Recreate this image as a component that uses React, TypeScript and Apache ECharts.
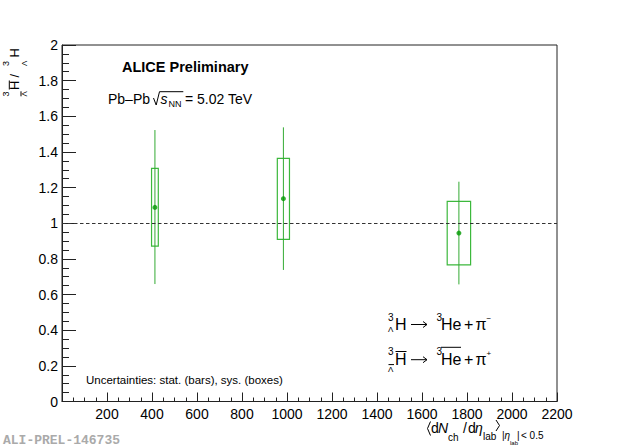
import React, { useEffect, useRef } from 'react';
import * as echarts from 'echarts';

// dN_ch/deta bins, ratio and its uncertainties
const multiplicity = [413, 984, 1764];
const multiplicityErr = [15, 27, 52];
const ratio = [1.089, 1.138, 0.945];
const statLow = [0.659, 0.738, 0.657];
const statHigh = [1.523, 1.538, 1.233];
const sysLow = [0.872, 0.91, 0.767];
const sysHigh = [1.308, 1.364, 1.123];
const refLevel = 1;

const FONT = "'Liberation Sans', Arial, Helvetica, sans-serif";

const txt = (text: string, x: number, y: number, size: number, extra: any = {}) => ({
  type: 'text',
  x,
  y,
  silent: true,
  style: {
    text,
    fontSize: size,
    fontFamily: FONT,
    fill: '#000',
    textAlign: 'left',
    verticalAlign: 'middle',
    ...extra,
  },
});

const rot = (el: any) => ({ ...el, rotation: Math.PI / 2 });

const seg = (x1: number, y1: number, x2: number, y2: number, w = 1) => ({
  type: 'line',
  silent: true,
  shape: { x1, y1, x2, y2 },
  style: { stroke: '#000', lineWidth: w },
});

const pline = (points: number[][], w = 1) => ({
  type: 'polyline',
  silent: true,
  shape: { points },
  style: { stroke: '#000', fill: 'none', lineWidth: w },
});

// thin right arrow like ROOT's #rightarrow
const arrow = (x: number, y: number) => [
  seg(x, y, x + 16, y, 1),
  pline([[x + 12, y - 3], [x + 16, y], [x + 12, y + 3]], 1),
];

const App: React.FC = () => {
  const chartRef = useRef<HTMLDivElement>(null);

  useEffect(() => {
    if (!chartRef.current) return;
    const chart = echarts.init(chartRef.current, undefined, { renderer: 'svg' });

    const statData = multiplicity.map((m, i) => [m, statLow[i], statHigh[i]]);
    const sysData = multiplicity.map((m, i) => [m, sysLow[i], sysHigh[i], multiplicityErr[i]]);
    const pointData = multiplicity.map((m, i) => [m, ratio[i]]);

    const option: any = {
      animation: false,
      backgroundColor: '#fff',
      grid: {
        left: 62,
        right: 63,
        top: 45,
        bottom: 45.5,
        show: true,
        borderColor: '#222',
        borderWidth: 1,
        backgroundColor: 'transparent',
        outerBoundsMode: 'none',
        containLabel: false,
      },
      xAxis: {
        type: 'value',
        min: 0,
        max: 2200,
        interval: 200,
        axisLine: { show: true, lineStyle: { color: '#222', width: 1 } },
        axisTick: { show: true, inside: true, length: 9, lineStyle: { color: '#222' } },
        minorTick: { show: true, splitNumber: 4, length: 4, lineStyle: { color: '#222' } },
        splitLine: { show: false },
        minorSplitLine: { show: false },
        axisLabel: {
          showMinLabel: false,
          margin: 5,
          color: '#000',
          fontSize: 14,
          fontFamily: FONT,
          formatter: (v: number) => String(v),
        },
      },
      yAxis: {
        type: 'value',
        min: 0,
        max: 2,
        interval: 0.2,
        axisLine: { show: true, lineStyle: { color: '#222', width: 1 } },
        axisTick: { show: true, inside: true, length: 14, lineStyle: { color: '#222' } },
        minorTick: { show: true, splitNumber: 4, length: 7, lineStyle: { color: '#222' } },
        splitLine: { show: false },
        minorSplitLine: { show: false },
        axisLabel: {
          margin: 4,
          color: '#000',
          fontSize: 14,
          fontFamily: FONT,
          formatter: (v: number) => String(Math.round(v * 10) / 10),
        },
      },
      series: [
        {
          type: 'custom',
          name: 'sys',
          data: sysData,
          encode: { x: 0, y: [1, 2] },
          renderItem: (params: any, api: any) => {
            const x = api.value(0);
            const lo = api.value(1);
            const hi = api.value(2);
            const dx = api.value(3);
            const p1 = api.coord([x - dx, hi]);
            const p2 = api.coord([x + dx, lo]);
            return {
              type: 'rect',
              shape: { x: p1[0], y: p1[1], width: p2[0] - p1[0], height: p2[1] - p1[1] },
              style: { fill: 'none', stroke: '#3cb83c', lineWidth: 1.2 },
            };
          },
          z: 3,
        },
        {
          type: 'custom',
          name: 'stat',
          data: statData,
          encode: { x: 0, y: [1, 2] },
          renderItem: (params: any, api: any) => {
            const x = api.value(0);
            const p1 = api.coord([x, api.value(1)]);
            const p2 = api.coord([x, api.value(2)]);
            return {
              type: 'line',
              shape: { x1: p1[0], y1: p1[1], x2: p2[0], y2: p2[1] },
              style: { stroke: '#33aa33', lineWidth: 1 },
            };
          },
          z: 3,
        },
        {
          type: 'scatter',
          name: 'ratio',
          data: pointData,
          symbol: 'circle',
          symbolSize: 5,
          itemStyle: { color: '#009900' },
          z: 4,
          markLine: {
            silent: true,
            symbol: ['none', 'none'],
            label: { show: false },
            lineStyle: { color: '#333', width: 1, type: [3.5, 2.5] },
            data: [{ yAxis: refLevel }],
          },
        },
      ],
      graphic: {
        elements: [
          // header texts
          txt('ALICE Preliminary', 122, 66.7, 14.5, { fontWeight: 'bold' }),
          txt('Pb–Pb', 108, 99.3, 14),
          pline([[153.5, 98], [156.2, 105], [159.5, 91.7], [183.3, 91.7]]),
          txt('s', 160.5, 99.3, 14, { fontStyle: 'italic' }),
          txt('NN', 168.5, 103.5, 9),
          txt('= 5.02 TeV', 185, 99.3, 14),

          txt('Uncertainties: stat. (bars), sys. (boxes)', 86, 379.7, 11.5),

          // decay channels
          txt('3', 388, 317, 10),
          txt('Λ', 388, 329.5, 8),
          txt('H', 395, 324, 16),
          ...arrow(411, 324.5),
          txt('3', 436.5, 317, 10),
          txt('He', 441, 324, 16),
          txt('+', 464, 324, 16),
          txt('π', 475.5, 324, 16),
          txt('−', 486.5, 318, 8),

          txt('3', 388, 351.5, 10),
          txt('Λ', 388, 369, 8),
          seg(388.5, 364.6, 394, 364.6),
          txt('H', 395, 359.2, 16),
          seg(395.5, 351.5, 406.5, 351.5),
          ...arrow(411, 359.7),
          txt('3', 436.5, 351.5, 10),
          txt('He', 441, 359.2, 16),
          seg(441, 347.3, 461, 347.3),
          txt('+', 464, 359.2, 16),
          txt('π', 475.5, 359.2, 16),
          txt('+', 486.5, 353.5, 8),

          // y axis title (rotated)
          rot(txt('3', 6, 96.5, 9)),
          rot(txt('Λ', 24.5, 96.5, 8)),
          seg(21, 96.3, 21, 91.3),
          rot(txt('H', 14, 90, 13)),
          seg(9.3, 89.5, 9.3, 80.5),
          rot(txt('/', 14, 77.5, 13)),
          rot(txt('3', 6, 66, 9)),
          rot(txt('Λ', 24.5, 66, 8)),
          rot(txt('H', 14, 57.5, 13)),

          // x axis title
          pline([[430.5, 421.5], [427.5, 428.5], [430.5, 435.5]]),
          txt('d', 431, 428, 14),
          txt('N', 438, 428, 14, { fontStyle: 'italic' }),
          txt('ch', 448, 437, 10),
          txt('/', 463, 428, 14),
          txt('d', 468, 428, 14),
          txt('η', 475, 428, 14, { fontStyle: 'italic' }),
          txt('lab', 483, 436, 10),
          pline([[496, 420], [499.5, 425.5], [496, 431]]),
          txt('|', 502, 435, 10),
          txt('η', 504.5, 435, 10, { fontStyle: 'italic' }),
          txt('lab', 510, 443, 6),
          txt('|', 517, 435, 10),
          txt('< 0.5', 521, 435, 10),

          // figure id
          txt('ALI-PREL-146735', 3, 440, 13, {
            fontFamily: "'Liberation Mono', 'DejaVu Sans Mono', monospace",
            fontWeight: 'bold',
            fill: '#aaa',
          }),
        ],
      },
    };

    chart.setOption(option);

    return () => {
      chart.dispose();
    };
  }, []);

  return (
    <div
      ref={chartRef}
      style={{ position: 'absolute', left: 0, top: 0, width: '620px', height: '447px' }}
    />
  );
};

export default App;
